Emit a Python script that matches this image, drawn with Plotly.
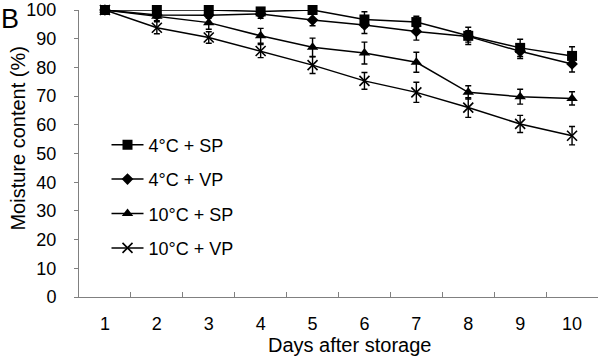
import plotly.graph_objects as go

days = ["1", "2", "3", "4", "5", "6", "7", "8", "9", "10"]
y_ticks = [0, 10, 20, 30, 40, 50, 60, 70, 80, 90, 100]

names = ["4°C + SP", "4°C + VP", "10°C + SP", "10°C + VP"]
sp4 = [100, 100, 100, 99.5, 100, 96.7, 95.8, 91.0, 86.8, 84.0]
sp4_err = [0, 0.8, 0.8, 1.5, 0.6, 2.7, 2.0, 3.0, 3.0, 3.2]
vp4 = [100, 98.3, 98.2, 98.6, 96.5, 94.8, 92.5, 90.8, 85.6, 81.2]
vp4_err = [0, 1.0, 1.0, 1.5, 2.0, 3.0, 3.0, 2.0, 2.5, 2.8]
sp10 = [100, 97.8, 95.6, 91.0, 87.0, 85.0, 81.8, 71.3, 69.8, 69.2]
sp10_err = [0, 1.5, 2.3, 2.6, 3.2, 3.8, 3.5, 2.3, 2.6, 2.3]
vp10 = [100, 93.8, 90.4, 85.7, 80.8, 75.3, 71.3, 66.0, 60.3, 56.2]
vp10_err = [0, 2.1, 2.0, 2.3, 2.9, 2.9, 3.5, 3.4, 3.0, 3.2]

series = [sp4, vp4, sp10, vp10]
errors = [sp4_err, vp4_err, sp10_err, vp10_err]
symbols = ["square", "diamond", "triangle-up", "x-thin"]
sizes = [10, 9, 10, 10]

FONT = "Liberation Sans, Arial, sans-serif"

fig = go.Figure()
for i, (nm, ys, er) in enumerate(zip(names, series, errors)):
    fig.add_trace(go.Scatter(
        x=days, y=ys, name=nm, mode="lines+markers",
        legendgroup=nm,
        line=dict(color="black", width=1.5),
        marker=dict(symbol=symbols[i], size=sizes[i], color="black",
                    line=dict(color="black", width=1.6 if symbols[i] == "x-thin" else 0)),
        error_y=dict(type="data", array=er, visible=True, color="black",
                     thickness=1.4, width=3),
        cliponaxis=False,
    ))

fig.update_layout(
    width=600, height=361,
    margin=dict(l=79, r=2, t=10, b=64, autoexpand=False),
    paper_bgcolor="white", plot_bgcolor="white",
    font=dict(family=FONT, size=18, color="black"),
    showlegend=True,
    legend=dict(x=0.053, y=0.594, xanchor="left", yanchor="top",
                bgcolor="rgba(0,0,0,0)", font=dict(size=18, family=FONT),
                itemwidth=32, tracegroupgap=8),
    xaxis=dict(
        type="category", range=[-0.5, 9.5], automargin=False,
        tickson="boundaries", ticks="inside", ticklen=5, tickcolor="#808080",
        showline=True, linecolor="#808080", linewidth=1,
        showgrid=False, zeroline=False,
        tickfont=dict(size=18), ticklabelstandoff=10,
    ),
    yaxis=dict(
        range=[0, 100], tickvals=y_ticks, automargin=False,
        ticks="outside", ticklen=4, tickcolor="#808080",
        showline=True, linecolor="#808080", linewidth=1,
        showgrid=False, zeroline=False,
        tickfont=dict(size=18), ticklabelstandoff=14,
    ),
    annotations=[
        dict(text="B", x=0, y=1, xref="paper", yref="paper",
             xanchor="left", yanchor="top", showarrow=False,
             xshift=-80, yshift=8, font=dict(size=27, family=FONT)),
        dict(text="Days after storage", x=0.522, y=0, xref="paper", yref="paper",
             xanchor="center", yanchor="middle", showarrow=False,
             yshift=-48, font=dict(size=20, family=FONT)),
        dict(text="Moisture content (%)", x=0, y=0.552, xref="paper", yref="paper",
             xanchor="center", yanchor="middle", showarrow=False, textangle=-90,
             xshift=-61, font=dict(size=20, family=FONT)),
    ],
)

fig.write_html("out.html",
               config={"displayModeBar": False},
               post_script="document.body.style.margin='0';document.body.style.padding='0';")
